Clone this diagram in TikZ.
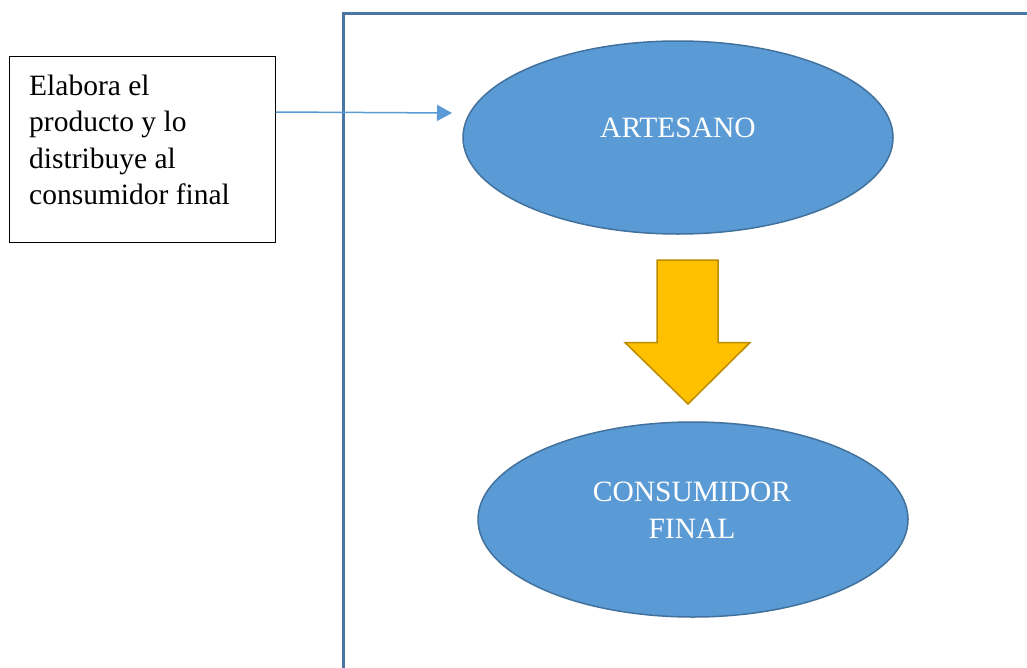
\documentclass[tikz,border=0pt]{standalone}
\usepackage{fontspec}
\setmainfont{Liberation Serif}
\usetikzlibrary{arrows.meta,shapes.geometric}
\definecolor{ellfill}{HTML}{5B9BD5}
\definecolor{elldraw}{HTML}{41719C}
\definecolor{framecol}{HTML}{4A76A6}
\definecolor{arrfill}{HTML}{FFC000}
\definecolor{arrdraw}{HTML}{BC8C00}
\tikzset{
  ovalshape/.style={ellipse, draw=elldraw, fill=ellfill, line width=1.5pt, inner sep=0pt},
  ovaltext/.style={anchor=base, inner sep=0pt, text=white, font=\fontsize{29.5}{36}\selectfont},
  boxtext/.style={anchor=base west, inner sep=0pt, font=\fontsize{29.5}{36}\selectfont},
  notebox/.style={draw=black, line width=1pt, inner sep=0pt},
  connector/.style={draw=ellfill, line width=1.5pt, -{Triangle[length=15pt,width=16pt]}},
}
\begin{document}
\begin{tikzpicture}[x=1pt,y=-1pt]
\useasboundingbox[fill=white] (0,0) rectangle (1027,667);
% frame
\draw[framecol, line width=3pt] (343,670) -- (343,13) -- (1030,13);
% note box
\node[notebox, minimum width=266pt, minimum height=186pt] (box) at (142,149) {};
\node[boxtext] (t1) at (29,95) {Elabora el};
\node[boxtext] (t2) at (29,131.5) {producto y lo};
\node[boxtext] (t3) at (29,168) {distribuye al};
\node[boxtext] (t4) at (29,204) {consumidor final};
% ellipses
\node[ovalshape, minimum width=430pt, minimum height=193pt] (art) at (678,137.5) {};
\node[ovaltext] (artl) at (678,137) {ARTESANO};
\node[ovalshape, minimum width=430pt, minimum height=195pt] (cons) at (693,519.5) {};
\node[ovaltext] (consl1) at (692,501) {CONSUMIDOR};
\node[ovaltext] (consl2) at (692,538) {FINAL};
% connector
\coordinate (tip) at (452,113);
\draw[connector] (box.east |- 0,112) -- (tip);
% block arrow
\draw[draw=arrdraw, fill=arrfill, line width=1.5pt, line join=miter]
  (657,260) -- (718,260) -- (718,342.5) -- (750,342.5) -- (688,404) -- (625,342.5) -- (657,342.5) -- cycle;
\end{tikzpicture}
\end{document}
